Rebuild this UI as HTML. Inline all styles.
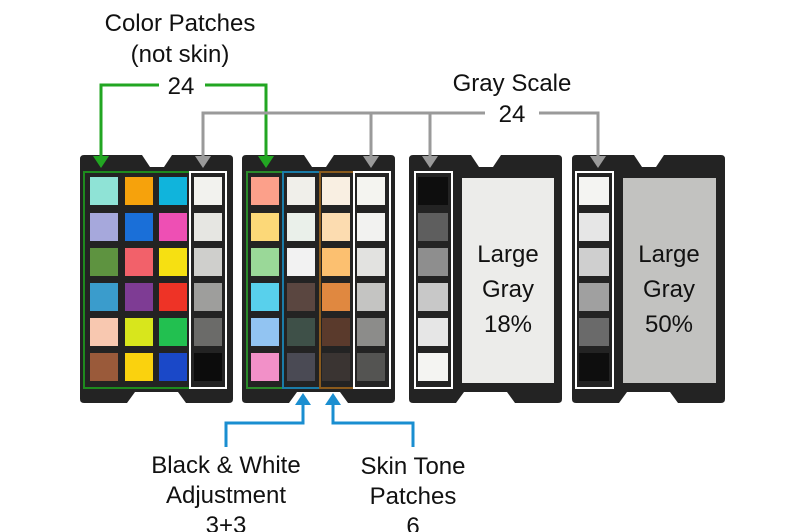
<!DOCTYPE html>
<html><head><meta charset="utf-8"><style>
html,body{margin:0;padding:0;background:#fff;}
svg{display:block;}
text{font-family:"Liberation Sans",sans-serif;fill:#111;}
</style></head><body>
<svg width="800" height="532" viewBox="0 0 800 532" xmlns="http://www.w3.org/2000/svg">
<defs>
<path id="card" d="M4,0 H62 L70,12 H84 L92,0 H149 Q153,0 153,4 V244 Q153,248 149,248 H106 L98,237 H55 L47,248 H4 Q0,248 0,244 V4 Q0,0 4,0 Z" fill="#232323"/>
</defs>
<use href="#card" x="80" y="155"/>
<use href="#card" x="242" y="155"/>
<use href="#card" x="409" y="155"/>
<use href="#card" x="572" y="155"/>

<!-- card1 patches -->
<g>
<rect x="90" y="177" width="28" height="28" fill="#8fe3d6"/><rect x="125" y="177" width="28" height="28" fill="#f6a20c"/><rect x="159" y="177" width="28" height="28" fill="#10b4dc"/><rect x="194" y="177" width="28" height="28" fill="#f2f2ee"/>
<rect x="90" y="213" width="28" height="28" fill="#a6a8dc"/><rect x="125" y="213" width="28" height="28" fill="#1a6fd8"/><rect x="159" y="213" width="28" height="28" fill="#ee4fb4"/><rect x="194" y="213" width="28" height="28" fill="#e6e6e2"/>
<rect x="90" y="248" width="28" height="28" fill="#5e9340"/><rect x="125" y="248" width="28" height="28" fill="#f2616a"/><rect x="159" y="248" width="28" height="28" fill="#f6e012"/><rect x="194" y="248" width="28" height="28" fill="#cfcfcc"/>
<rect x="90" y="283" width="28" height="28" fill="#3a9ccc"/><rect x="125" y="283" width="28" height="28" fill="#7e3c94"/><rect x="159" y="283" width="28" height="28" fill="#ee3326"/><rect x="194" y="283" width="28" height="28" fill="#9e9e9c"/>
<rect x="90" y="318" width="28" height="28" fill="#f8c8b0"/><rect x="125" y="318" width="28" height="28" fill="#d8e61c"/><rect x="159" y="318" width="28" height="28" fill="#22c050"/><rect x="194" y="318" width="28" height="28" fill="#6b6b69"/>
<rect x="90" y="353" width="28" height="28" fill="#9a5a3a"/><rect x="125" y="353" width="28" height="28" fill="#fad20e"/><rect x="159" y="353" width="28" height="28" fill="#1a48c8"/><rect x="194" y="353" width="28" height="28" fill="#0c0c0c"/>
</g>
<!-- card2 patches -->
<g>
<rect x="251" y="177" width="28" height="28" fill="#fca08a"/><rect x="287" y="177" width="28" height="28" fill="#f0efea"/><rect x="322" y="177" width="28" height="28" fill="#f9efe2"/><rect x="357" y="177" width="28" height="28" fill="#f4f4f0"/>
<rect x="251" y="213" width="28" height="28" fill="#fcd878"/><rect x="287" y="213" width="28" height="28" fill="#eaf0ea"/><rect x="322" y="213" width="28" height="28" fill="#fcdcb0"/><rect x="357" y="213" width="28" height="28" fill="#f2f2f0"/>
<rect x="251" y="248" width="28" height="28" fill="#9ad898"/><rect x="287" y="248" width="28" height="28" fill="#f2f2f2"/><rect x="322" y="248" width="28" height="28" fill="#fcc070"/><rect x="357" y="248" width="28" height="28" fill="#e2e2e0"/>
<rect x="251" y="283" width="28" height="28" fill="#58d0ec"/><rect x="287" y="283" width="28" height="28" fill="#5a4640"/><rect x="322" y="283" width="28" height="28" fill="#e08840"/><rect x="357" y="283" width="28" height="28" fill="#c4c4c2"/>
<rect x="251" y="318" width="28" height="28" fill="#92c4f2"/><rect x="287" y="318" width="28" height="28" fill="#3e5048"/><rect x="322" y="318" width="28" height="28" fill="#5a3a2c"/><rect x="357" y="318" width="28" height="28" fill="#8c8c8a"/>
<rect x="251" y="353" width="28" height="28" fill="#f290c8"/><rect x="287" y="353" width="28" height="28" fill="#4a4a54"/><rect x="322" y="353" width="28" height="28" fill="#3a3432"/><rect x="357" y="353" width="28" height="28" fill="#545452"/>
</g>
<!-- card3 -->
<rect x="418" y="177" width="30" height="28" fill="#0e0e0e"/><rect x="418" y="213" width="30" height="28" fill="#5e5e5e"/><rect x="418" y="248" width="30" height="28" fill="#8e8e8e"/><rect x="418" y="283" width="30" height="28" fill="#c8c8c8"/><rect x="418" y="318" width="30" height="28" fill="#e6e6e6"/><rect x="418" y="353" width="30" height="28" fill="#f4f4f2"/>
<rect x="462" y="178" width="92" height="205" fill="#ececea"/>
<!-- card4 -->
<rect x="579" y="177" width="30" height="28" fill="#f4f4f2"/><rect x="579" y="213" width="30" height="28" fill="#e6e6e6"/><rect x="579" y="248" width="30" height="28" fill="#cfcfcf"/><rect x="579" y="283" width="30" height="28" fill="#a0a0a0"/><rect x="579" y="318" width="30" height="28" fill="#6a6a6a"/><rect x="579" y="353" width="30" height="28" fill="#0e0e0e"/>
<rect x="623" y="178" width="93" height="205" fill="#c2c2c0"/>

<!-- frames -->
<g fill="none" stroke-width="2">
<rect x="84" y="172" width="106" height="216" stroke="#1e8a1e"/>
<rect x="190" y="172" width="36" height="216" stroke="#fff"/>
<rect x="247" y="172" width="36" height="216" stroke="#2a8a2a"/>
<rect x="283" y="172" width="37" height="216" stroke="#1a7ca8"/>
<rect x="320" y="172" width="34" height="216" stroke="#8a5a1c"/>
<rect x="354" y="172" width="36" height="216" stroke="#fff"/>
<rect x="415" y="172" width="37" height="216" stroke="#fff"/>
<rect x="576" y="172" width="37" height="216" stroke="#fff"/>
</g>

<g text-anchor="middle" font-size="24">
<text x="508" y="262">Large</text><text x="508" y="297">Gray</text><text x="508" y="332">18%</text>
<text x="669" y="262">Large</text><text x="669" y="297">Gray</text><text x="669" y="332">50%</text>
</g>

<!-- green connectors -->
<g fill="none" stroke="#22a622" stroke-width="3">
<polyline points="101,158 101,85 159,85"/>
<polyline points="205,85 266,85 266,158"/>
</g>
<g fill="#22a622">
<polygon points="93,156 109,156 101,168"/>
<polygon points="258,156 274,156 266,168"/>
</g>
<!-- gray connectors -->
<g fill="none" stroke="#9a9a9a" stroke-width="3">
<polyline points="203,158 203,113 485,113"/>
<line x1="371" y1="113" x2="371" y2="158"/>
<line x1="430" y1="113" x2="430" y2="158"/>
<polyline points="539,113 598,113 598,158"/>
</g>
<g fill="#9a9a9a">
<polygon points="195,156 211,156 203,168"/>
<polygon points="363,156 379,156 371,168"/>
<polygon points="422,156 438,156 430,168"/>
<polygon points="590,156 606,156 598,168"/>
</g>
<!-- blue connectors -->
<g fill="none" stroke="#1a8ed0" stroke-width="3">
<polyline points="303,402 303,423 226,423 226,447"/>
<polyline points="333,402 333,423 413,423 413,447"/>
</g>
<g fill="#1a8ed0">
<polygon points="295,405 311,405 303,393"/>
<polygon points="325,405 341,405 333,393"/>
</g>

<g text-anchor="middle" font-size="24">
<text x="180" y="31">Color Patches</text>
<text x="180" y="62">(not skin)</text>
<text x="181" y="94">24</text>
<text x="512" y="91">Gray Scale</text>
<text x="512" y="122">24</text>
<text x="226" y="473">Black &amp; White</text>
<text x="226" y="503">Adjustment</text>
<text x="226" y="533">3+3</text>
<text x="413" y="474">Skin Tone</text>
<text x="413" y="504">Patches</text>
<text x="413" y="534">6</text>
</g>
</svg>
</body></html>
